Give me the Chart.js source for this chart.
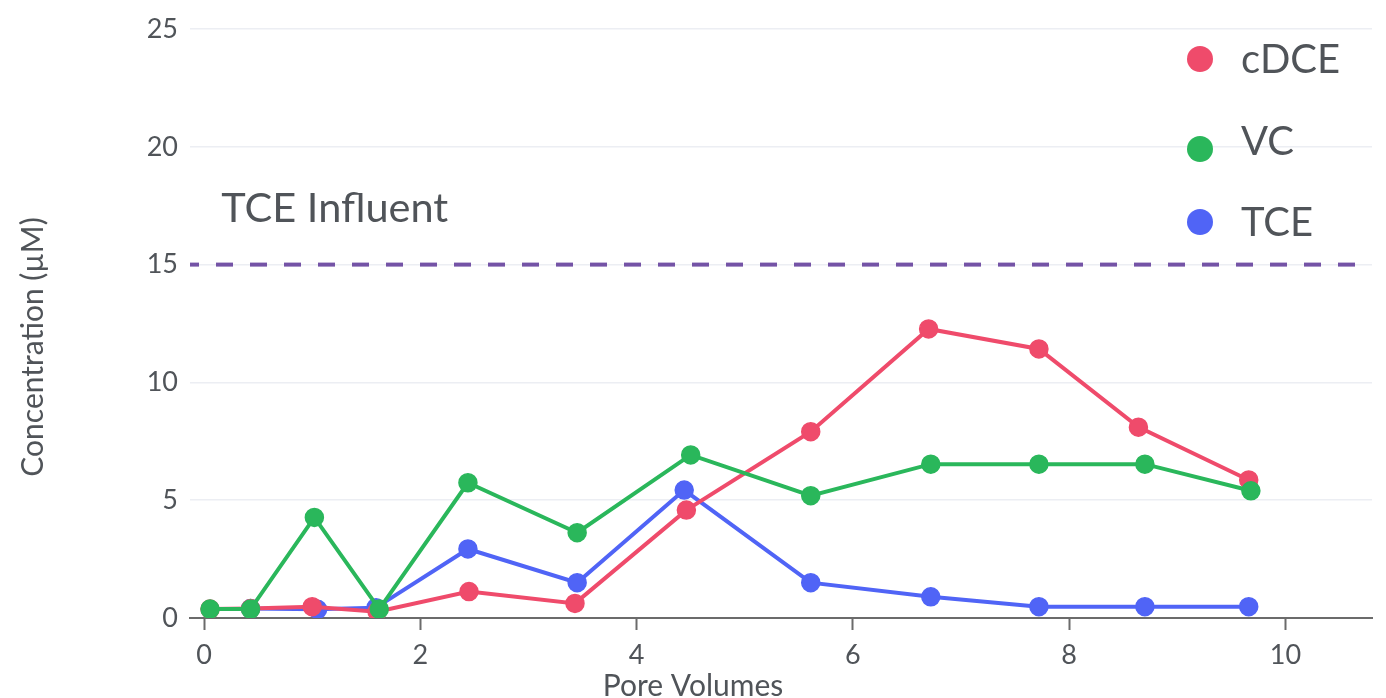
<!DOCTYPE html>
<html>
<head>
<meta charset="utf-8">
<script src="https://cdn.jsdelivr.net/npm/chart.js@4.4.1/dist/chart.umd.min.js"></script>
<style>
  html, body { margin: 0; padding: 0; background: #fff; }
  #wrap { width: 1386px; height: 698px; }
</style>
</head>
<body>
<div id="wrap"><canvas id="myChart" width="1386" height="698"></canvas></div>
<script>
// pore volumes and concentrations (uM)
let cdceX = [0.055, 0.43, 1.00, 1.60, 2.45, 3.43, 4.46, 5.61, 6.70, 7.72, 8.64, 9.66];
let cdceY = [0.38, 0.40, 0.48, 0.27, 1.12, 0.62, 4.58, 7.91, 12.27, 11.42, 8.10, 5.86];

let vcX = [0.055, 0.43, 1.02, 1.62, 2.44, 3.45, 4.50, 5.61, 6.72, 7.72, 8.70, 9.68];
let vcY = [0.38, 0.38, 4.27, 0.38, 5.74, 3.62, 6.92, 5.19, 6.53, 6.53, 6.53, 5.40];

let tceX = [0.43, 1.05, 1.59, 2.44, 3.45, 4.44, 5.61, 6.72, 7.72, 8.70, 9.66];
let tceY = [0.40, 0.37, 0.44, 2.93, 1.50, 5.43, 1.50, 0.90, 0.48, 0.48, 0.48];

let influentX = [-0.13, 10.8];
let influentY = [15, 15];

let xTicks = [0, 2, 4, 6, 8, 10];
let yTicks = [0, 5, 10, 15, 20, 25];

let textColor = '#505459';
let fontName = 'Lato, "Open Sans", sans-serif';

function pairs(xs, ys) {
    return xs.map((x, i) => ({ x: x, y: ys[i] }));
}

function series(label, xs, ys, color, order) {
    return {
        label: label,
        data: pairs(xs, ys),
        borderColor: color,
        backgroundColor: color,
        borderWidth: 4,
        pointRadius: 9,
        pointHoverRadius: 9,
        pointBorderWidth: 1.5,
        pointBackgroundColor: color,
        pointBorderColor: color,
        tension: 0,
        order: order
    };
}

// legend, axis titles and the influent label, drawn over the plot
let overlay = {
    id: 'overlay',
    afterDraw(chart) {
        let c = chart.ctx;
        let xs = chart.scales.x, ys = chart.scales.y;
        c.save();
        c.fillStyle = textColor;

        // TCE Influent label
        c.font = '41.5px ' + fontName;
        c.textAlign = 'left';
        c.textBaseline = 'alphabetic';
        c.fillText('TCE Influent', xs.getPixelForValue(0.16), ys.getPixelForValue(16.8));

        // axis titles, centred on the whole canvas
        c.font = '30px ' + fontName;
        c.textAlign = 'center';
        c.fillText('Pore Volumes', chart.width / 2, 696);
        c.translate(43, 347);
        c.rotate(-Math.PI / 2);
        c.fillText('Concentration (\u00b5M)', 0, 0);
        c.setTransform(1, 0, 0, 1, 0, 0);

        // legend
        let items = chart.data.datasets.filter(d => d.showInLegend !== false);
        let dotY = [59, 149, 222];
        c.font = '40px ' + fontName;
        c.textAlign = 'left';
        items.forEach((d, i) => {
            let base = 73 + i * 81.5;
            c.fillStyle = d.borderColor;
            c.beginPath();
            c.arc(1200, dotY[i], 13, 0, Math.PI * 2);
            c.fill();
            c.fillStyle = textColor;
            c.fillText(d.label, 1241, base);
        });
        c.restore();
    }
};

let ctx = document.getElementById('myChart').getContext('2d');

document.fonts.load('27px Lato').then(() => {
    let chart = new Chart(ctx, {
        type: 'line',
        data: {
            datasets: [
                series('cDCE', cdceX, cdceY, '#ef4b6b', 1),
                series('VC', vcX, vcY, '#2ab75b', 0),
                series('TCE', tceX, tceY, '#5064f6', 2),
                {
                    label: 'TCE Influent',
                    showInLegend: false,
                    data: pairs(influentX, influentY),
                    borderColor: '#7453a6',
                    borderWidth: 4,
                    borderDash: [17, 17],
                    borderDashOffset: 8,
                    pointRadius: 0,
                    order: 3
                }
            ]
        },
        options: {
            responsive: false,
            animation: false,
            devicePixelRatio: 1,
            layout: { padding: { top: 29, right: 14, left: 0, bottom: 0 } },
            plugins: {
                legend: { display: false },
                tooltip: { enabled: false }
            },
            scales: {
                x: {
                    type: 'linear',
                    min: -0.13,
                    max: 10.8,
                    afterFit: s => { s.height = 80; },
                    afterBuildTicks: s => { s.ticks = xTicks.map(v => ({ value: v })); },
                    border: { display: true, color: '#6b6b6b', width: 2 },
                    grid: {
                        drawOnChartArea: false,
                        drawTicks: true,
                        tickLength: 12,
                        tickWidth: 2,
                        tickColor: '#6b6b6b'
                    },
                    ticks: {
                        padding: 9,
                        color: textColor,
                        font: { family: fontName, size: 27 },
                        maxRotation: 0
                    }
                },
                y: {
                    min: 0,
                    max: 25,
                    afterFit: s => { s.width = 190; },
                    afterBuildTicks: s => { s.ticks = yTicks.map(v => ({ value: v })); },
                    border: { display: false },
                    grid: {
                        color: '#eceef3',
                        lineWidth: 1.5,
                        drawTicks: false
                    },
                    ticks: {
                        padding: 12,
                        color: textColor,
                        font: { family: fontName, size: 27 }
                    }
                }
            }
        },
        plugins: [overlay]
    });
});
</script>
</body>
</html>
